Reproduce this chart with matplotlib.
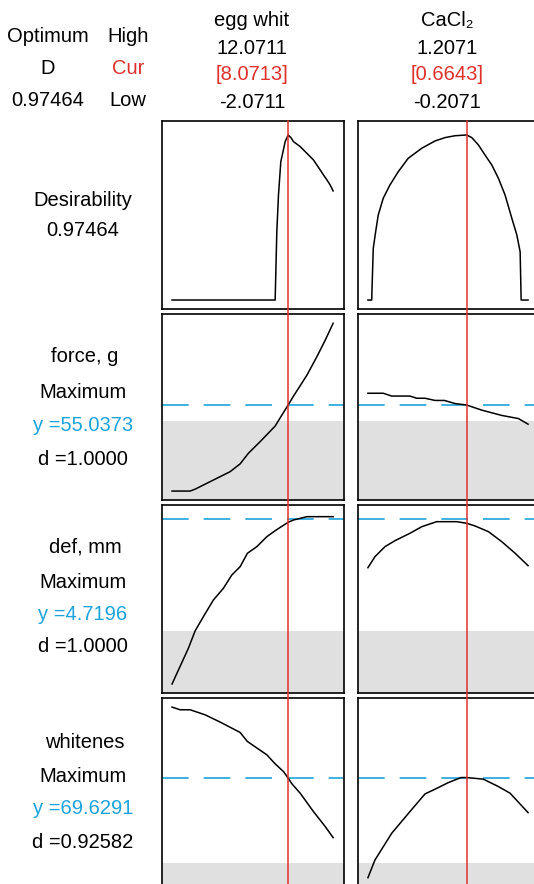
import matplotlib.pyplot as plt
from matplotlib.lines import Line2D

plt.rcParams['font.family'] = ['Liberation Sans', 'DejaVu Sans']

# ---------- FACTORS ----------
factor_names = ["egg whit", "CaCl\u2082"]
factor_high = [12.0711, 1.2071]
factor_cur = [8.0713, 0.6643]
factor_low = [-2.0711, -0.2071]

# ---------- RESPONSES ----------
resp_names = ["force, g", "def, mm", "whitenes"]
resp_goal = ["Maximum", "Maximum", "Maximum"]
resp_y = [55.0373, 4.7196, 69.6291]
resp_d = ["1.0000", "1.0000", "0.92582"]
resp_lower = [50.0, 3.0, 60.0]
resp_ylim = [(24.64, 84.16), (2.049, 4.934), (57.36, 78.63)]
overall_d = 0.97464

# ---------- CURVES ----------
egg_x_des = [-2.0711, 6.935, 7.08, 7.225, 7.43, 7.81, 8.0713, 8.31, 8.54, 9.12, 9.71,
             10.28, 10.58, 10.87, 11.16, 11.46, 11.74, 12.0]
egg_des = [0, 0, 0.403, 0.62, 0.817, 0.935, 0.97464, 0.959, 0.935, 0.906, 0.866,
           0.827, 0.797, 0.768, 0.738, 0.709, 0.679, 0.644]
cacl_x_des = [-0.2071, -0.174, -0.16, -0.139, -0.116, -0.072, -0.013, 0.061, 0.149, 0.268,
              0.385, 0.474, 0.562, 0.6643, 0.71, 0.768, 0.827, 0.887, 0.945, 1.004,
              1.064, 1.108, 1.137, 1.146, 1.2071]
cacl_des = [0, 0, 0.305, 0.403, 0.502, 0.601, 0.679, 0.758, 0.837, 0.896,
            0.939, 0.959, 0.970, 0.97464, 0.959, 0.916, 0.856, 0.797, 0.719, 0.62,
            0.482, 0.384, 0.285, 0, 0]

egg_x_force = [-2.0711, -0.497, -0.06, 1.25, 3.0, 3.875, 4.6, 5.62, 6.935, 7.52, 8.0713,
               8.54, 9.71, 10.58, 11.31, 12.0]
egg_force = [27.5, 27.5, 28.1, 30.5, 33.7, 36.2, 39.6, 43.3, 48.3, 51.8, 55.04,
             57.9, 64.6, 70.5, 75.8, 81.2]
cacl_x_force = [-0.2071, -0.072, 0.003, 0.164, 0.224, 0.297, 0.385, 0.468, 0.562, 0.6643,
                0.798, 0.975, 1.122, 1.2071]
cacl_force = [58.8, 58.8, 57.9, 57.9, 57.2, 57.2, 56.5, 56.5, 55.5, 55.04,
              53.4, 51.7, 50.7, 48.9]

egg_x_def = [-2.0711, -0.645, -0.06, 0.666, 1.54, 2.415, 3.15, 3.875, 4.51, 5.33, 6.21,
             6.935, 8.0713, 8.54, 9.71, 12.0]
egg_def = [2.187, 2.735, 3.0, 3.22, 3.476, 3.656, 3.86, 3.987, 4.193, 4.294, 4.448,
           4.54, 4.669, 4.704, 4.755, 4.755]
cacl_x_def = [-0.2071, -0.145, -0.057, 0.032, 0.164, 0.268, 0.4, 0.577, 0.6643, 0.739,
              0.857, 0.975, 1.093, 1.2071]
cacl_def = [3.972, 4.141, 4.294, 4.387, 4.50, 4.601, 4.678, 4.678, 4.654, 4.612,
            4.525, 4.371, 4.193, 4.003]

egg_x_white = [-2.0711, -1.37, -0.497, 0.814, 2.125, 3.875, 4.51, 6.21, 6.935, 7.66,
               8.0713, 8.40, 9.12, 10.28, 11.31, 12.0]
egg_white = [77.6, 77.3, 77.3, 76.73, 75.91, 74.73, 73.71, 72.2, 71.18, 70.31,
             69.56, 68.92, 67.86, 65.78, 64.08, 62.83]
cacl_x_white = [-0.2071, -0.145, 0.003, 0.164, 0.297, 0.385, 0.503, 0.615, 0.6643, 0.812,
                0.945, 1.048, 1.2071]
cacl_white = [58.3, 60.3, 63.33, 65.78, 67.78, 68.31, 69.06, 69.63, 69.63, 69.45,
              68.61, 67.86, 65.66]

curves = [
    [(egg_x_des, egg_des), (cacl_x_des, cacl_des)],
    [(egg_x_force, egg_force), (cacl_x_force, cacl_force)],
    [(egg_x_def, egg_def), (cacl_x_def, cacl_def)],
    [(egg_x_white, egg_white), (cacl_x_white, cacl_white)],
]

RED = '#e0302c'
CYAN = '#1ca3dc'
W, H = 534, 884

fig = plt.figure(figsize=(W / 100, H / 100), dpi=100)

# panel pixel boxes
col_px = [(162, 344), (358, 538)]
row_px = [(121, 309), (314, 500), (505, 693), (698, 886)]

axes = []
for r, (top, bot) in enumerate(row_px):
    row_axes = []
    for c, (left, right) in enumerate(col_px):
        ax = fig.add_axes([left / W, 1 - bot / H, (right - left) / W, (bot - top) / H])
        lo, hi = factor_low[c], factor_high[c]
        pad = (hi - lo) * 0.062
        ax.set_xlim(lo - pad, hi + pad)
        if r == 0:
            ax.set_ylim(-0.053, 1.057)
        else:
            ax.set_ylim(*resp_ylim[r - 1])
            ax.axhspan(resp_ylim[r - 1][0], resp_lower[r - 1], color='#e0e0e0', lw=0, zorder=0)
            ax.axhline(resp_y[r - 1], color=CYAN, lw=1.2, dashes=(16, 9), zorder=2)
        xs, ys = curves[r][c]
        ax.plot(xs, ys, color='black', lw=1.1, zorder=3)
        ax.set_xticks([])
        ax.set_yticks([])
        for s in ax.spines.values():
            s.set_linewidth(1.2)
        row_axes.append(ax)
    axes.append(row_axes)

# red vertical current-setting lines through all rows
fig.canvas.draw()
inv = fig.transFigure.inverted()
for c in range(2):
    ax = axes[0][c]
    xf = inv.transform(ax.transData.transform((factor_cur[c], 0)))[0]
    fig.add_artist(Line2D([xf, xf], [1 - row_px[0][0] / H, 0], transform=fig.transFigure,
                          color=RED, lw=1.1, zorder=5))

# ---------- TEXT ----------
fs = 14.5
def put(x, y, s, color='black', size=fs):
    fig.text(x / W, 1 - y / H, s, ha='center', va='center', fontsize=size, color=color)

put(48, 37, "Optimum")
put(128, 37, "High")
put(48, 68, "D")
put(128, 68, "Cur", RED)
put(48, 100, f"{overall_d:.5f}")
put(128, 100, "Low")

for c, (left, right) in enumerate(col_px):
    cx = (left + right) / 2 - 1
    put(cx, 20, factor_names[c])
    put(cx, 48, f"{factor_high[c]:.4f}")
    put(cx, 74, f"[{factor_cur[c]:.4f}]", RED)
    put(cx, 102, f"{factor_low[c]:.4f}")

put(83, 201, "Desirability")
put(83, 231, f"{overall_d:.5f}")

label_y = [(357, 393, 425, 459), (547, 582, 614, 647), (743, 777, 809, 842)]
for i in range(3):
    y0, y1, y2, y3 = label_y[i]
    put(85, y0, resp_names[i])
    put(83, y1, resp_goal[i])
    put(83, y2, f"y ={resp_y[i]:.4f}", CYAN)
    put(83, y3, f"d ={resp_d[i]}")

fig.savefig("out.png", dpi=100)
